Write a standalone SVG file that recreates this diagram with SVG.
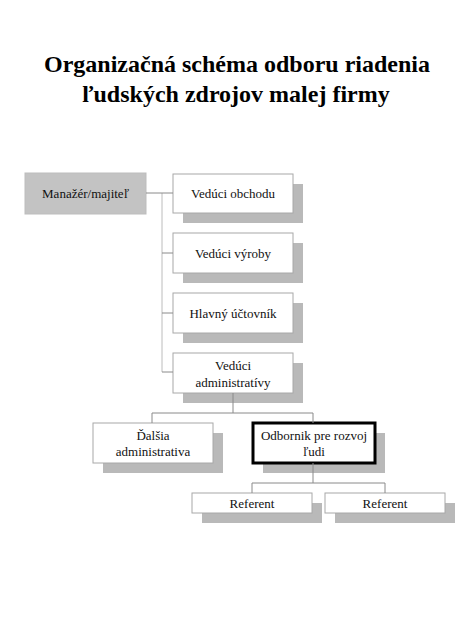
<svg xmlns="http://www.w3.org/2000/svg" width="474" height="632" viewBox="0 0 474 632">
<style>
.title{font-family:"Liberation Serif","Times New Roman",serif;font-weight:bold;font-size:24px;fill:#000;text-anchor:middle}
.lbl{font-family:"Liberation Serif","Times New Roman",serif;font-size:13px;fill:#111;text-anchor:middle}
.box{fill:#fff;stroke:#a8a8a8;stroke-width:1}
.shadow{fill:#b9b9b9}
.con{fill:none;stroke:#8a8a8a;stroke-width:1}
.spine{fill:none;stroke:#bcbcbc;stroke-width:1}
</style>
<rect width="474" height="632" fill="#fff"/>
<g id="title">
<text class="title" x="237" y="72">Organizačná schéma odboru riadenia</text>
<text class="title" x="236" y="102">ľudských zdrojov malej firmy</text>
</g>
<g id="manager">
<rect x="25" y="173" width="121" height="41" fill="#c3c3c3" stroke="#bdbdbd"/>
<text class="lbl" x="85.5" y="198">Manažér/majiteľ</text>
</g>
<g id="obchod">
<rect class="shadow" x="183" y="184" width="120" height="39"/>
<rect class="box" x="173" y="174" width="120" height="39"/>
<text class="lbl" x="233" y="198">Vedúci obchodu</text>
</g>
<g id="vyroba">
<rect class="shadow" x="183" y="243" width="120" height="40"/>
<rect class="box" x="173" y="233" width="120" height="40"/>
<text class="lbl" x="233" y="258">Vedúci výroby</text>
</g>
<g id="uctovnik">
<rect class="shadow" x="183" y="303" width="120" height="40"/>
<rect class="box" x="173" y="293" width="120" height="40"/>
<text class="lbl" x="233" y="318">Hlavný účtovník</text>
</g>
<g id="admin">
<rect class="shadow" x="183" y="363" width="120" height="40"/>
<rect class="box" x="173" y="353" width="120" height="40"/>
<text class="lbl" x="233" y="370">Vedúci</text>
<text class="lbl" x="233" y="387">administratívy</text>
</g>
<g id="dalsia">
<rect class="shadow" x="103" y="433" width="120" height="40"/>
<rect class="box" x="93" y="423" width="120" height="40"/>
<text class="lbl" x="153" y="440">Ďalšia</text>
<text class="lbl" x="153" y="456">administrativa</text>
</g>
<g id="odbornik">
<rect class="shadow" x="263" y="433" width="122" height="40"/>
<rect x="253" y="423" width="122" height="40" fill="#fff" stroke="#000" stroke-width="3"/>
<text class="lbl" x="314" y="440">Odbornik pre rozvoj</text>
<text class="lbl" x="314" y="456">ľudi</text>
</g>
<g id="referent1">
<rect class="shadow" x="202" y="503" width="120" height="20"/>
<rect class="box" x="192" y="493" width="120" height="20"/>
<text class="lbl" x="252" y="508">Referent</text>
</g>
<g id="referent2">
<rect class="shadow" x="335" y="503" width="120" height="20"/>
<rect class="box" x="325" y="493" width="120" height="20"/>
<text class="lbl" x="385" y="508">Referent</text>
</g>
<g id="connectors">
<path class="spine" d="M162,193 V372"/>
<path class="con" d="M146,193 H173 M162,253 H173 M162,313 H173 M162,372 H173"/>
<path class="con" d="M233,393 V413 M152,413 H313 M152,413 V423 M313,413 V423"/>
<path class="con" d="M313,463 V483 M252,483 H385 M252,483 V493 M385,483 V493"/>
</g>
</svg>
